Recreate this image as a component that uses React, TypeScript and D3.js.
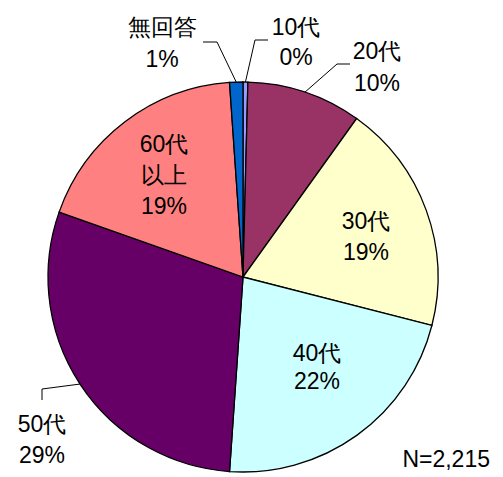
import * as d3 from "d3";

const categories = ["10代", "20代", "30代", "40代", "50代", "60代以上", "無回答"];
const values = [0.4, 9.5, 19.1, 22.1, 29.3, 18.5, 1.1];
const pctLabels = ["0%", "10%", "19%", "22%", "29%", "19%", "1%"];
const nameLines = [["10代"], ["20代"], ["30代"], ["40代"], ["50代"], ["60代", "以上"], ["無回答"]];
const colors = ["#9999FF", "#993366", "#FFFFCC", "#CCFFFF", "#660066", "#FF8080", "#0066CC"];
const total = "N=2,215";

// label layout: centre x, first baseline, line gap, optional leader-line bend points
const layout: Record<string, { x: number; y: number; gap: number; line?: [number, number][] }> = {
  "10代": { x: 296, y: 35, gap: 30, line: [[255, 40], [268, 40]] },
  "20代": { x: 377, y: 59, gap: 32, line: [[337, 64], [350, 64]] },
  "30代": { x: 366, y: 229, gap: 31 },
  "40代": { x: 317, y: 361, gap: 28 },
  "50代": { x: 42, y: 432, gap: 31, line: [[42, 389], [42, 400]] },
  "60代以上": { x: 164, y: 152, gap: 31 },
  "無回答": { x: 162, y: 35, gap: 32, line: [[217, 42], [203, 42]] },
};

const W = 503;
const H = 477;
const cx = 243;
const cy = 277;
const R = 195;
const font = "'Liberation Sans', Arial, sans-serif";
const fs = 23;

const App = () => {
  const data = categories.map((c, i) => ({ c, v: values[i], i }));
  const pie = d3
    .pie<{ c: string; v: number; i: number }>()
    .sort(null)
    .value((d) => d.v);
  const arcs = pie(data);
  const arc = d3.arc<d3.PieArcDatum<any>>().innerRadius(0).outerRadius(R);
  const edgeArc = d3.arc<d3.PieArcDatum<any>>().innerRadius(R).outerRadius(R);

  return (
    <svg
      width={W}
      height={H}
      style={{ position: "absolute", left: 0, top: 0, background: "#fff" }}
    >
      <g transform={`translate(${cx},${cy})`}>
        {arcs.map((a) => (
          <path
            key={a.data.c}
            d={arc(a) ?? ""}
            fill={colors[a.data.i]}
            stroke="#000"
            strokeWidth={1.3}
          />
        ))}
      </g>
      {arcs.map((a) => {
        const name = a.data.c;
        const lines = [...nameLines[a.data.i], pctLabels[a.data.i]];
        const o = layout[name];
        let leader = null;
        if (o.line) {
          const [ex, ey] = edgeArc.centroid(a);
          const pts: [number, number][] = [[ex + cx, ey + cy], ...o.line];
          leader = (
            <path d={d3.line()(pts) ?? ""} fill="none" stroke="#000" strokeWidth={1} />
          );
        }
        return (
          <g key={name}>
            {leader}
            {lines.map((t, k) => (
              <text
                key={k}
                x={o.x}
                y={o.y + k * o.gap}
                textAnchor="middle"
                fontFamily={font}
                fontSize={fs}
                fill="#000"
              >
                {t}
              </text>
            ))}
          </g>
        );
      })}
      <text x={490} y={467} textAnchor="end" fontFamily={font} fontSize={fs} fill="#000">
        {total}
      </text>
    </svg>
  );
};

export default App;
